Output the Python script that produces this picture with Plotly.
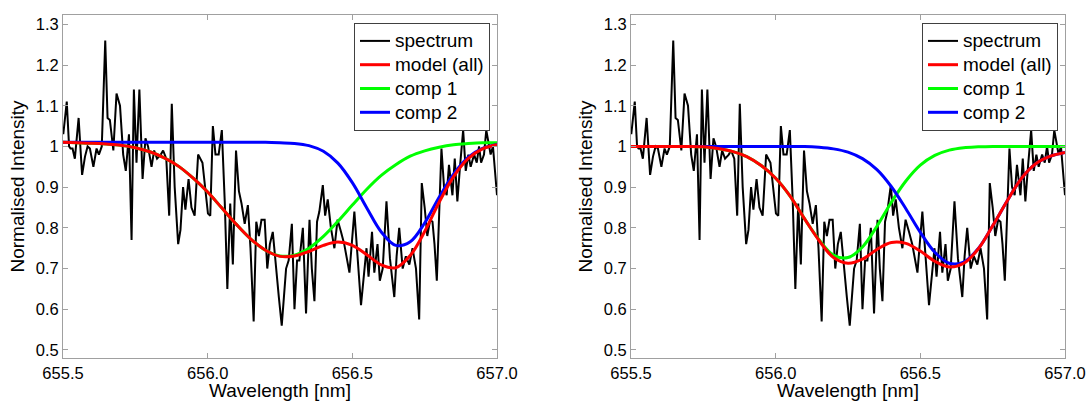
import plotly.graph_objects as go

# ---------------- data ----------------
spec_wl = [655.501, 655.513, 655.521, 655.526, 655.533, 655.541, 655.554, 655.566, 655.576, 655.585,
           655.593, 655.605, 655.616, 655.624, 655.634, 655.646, 655.654, 655.662, 655.674, 655.685,
           655.697, 655.708, 655.717, 655.728, 655.737, 655.745, 655.754, 655.764, 655.775, 655.785,
           655.794, 655.806, 655.815, 655.825, 655.838, 655.846, 655.857, 655.867, 655.876, 655.886,
           655.898, 655.906, 655.915, 655.923, 655.934, 655.944, 655.955, 655.967, 655.982, 655.992,
           656.001, 656.009, 656.018, 656.027, 656.038, 656.049, 656.059, 656.068, 656.078, 656.087,
           656.098, 656.108, 656.117, 656.128, 656.139, 656.148, 656.159, 656.168, 656.177, 656.186,
           656.197, 656.206, 656.215, 656.225, 656.237, 656.246, 656.256, 656.271, 656.280, 656.291,
           656.300, 656.309, 656.317, 656.329, 656.340, 656.352, 656.360, 656.369, 656.378, 656.386,
           656.398, 656.406, 656.415, 656.426, 656.438, 656.449, 656.461, 656.472, 656.490, 656.499,
           656.507, 656.530, 656.541, 656.549, 656.556, 656.568, 656.576, 656.587, 656.595, 656.605,
           656.618, 656.630, 656.637, 656.645, 656.653, 656.662, 656.674, 656.685, 656.697, 656.708,
           656.720, 656.731, 656.740, 656.750, 656.759, 656.769, 656.777, 656.784, 656.792, 656.800,
           656.808, 656.817, 656.826, 656.834, 656.846, 656.854, 656.863, 656.872, 656.883, 656.892,
           656.901, 656.909, 656.921, 656.930, 656.938, 656.945, 656.955, 656.963, 656.970, 656.978,
           656.986, 657.000]
spec_int = [1.03, 1.11, 1.00, 0.995, 0.995, 0.97, 1.07, 0.93, 0.975, 1.00,
            0.995, 0.95, 0.995, 0.98, 1.00, 1.26, 1.07, 1.065, 0.99, 1.13,
            1.10, 0.98, 0.94, 1.03, 0.77, 1.14, 0.96, 1.14, 0.92, 1.02,
            1.00, 0.95, 0.99, 0.97, 0.98, 0.99, 0.97, 0.83, 1.105, 0.90,
            0.76, 0.795, 0.90, 0.845, 0.92, 0.85, 0.83, 0.98, 0.96, 0.90,
            0.835, 0.83, 1.05, 0.98, 0.98, 1.04, 0.865, 0.65, 0.86, 0.71,
            0.99, 0.89, 0.86, 0.81, 0.856, 0.75, 0.57, 0.815, 0.78, 0.82,
            0.82, 0.70, 0.76, 0.79, 0.69, 0.63, 0.56, 0.70, 0.72, 0.81,
            0.60, 0.72, 0.72, 0.80, 0.59, 0.82, 0.70, 0.62, 0.815, 0.84,
            0.905, 0.83, 0.87, 0.80, 0.75, 0.82, 0.79, 0.76, 0.69, 0.77,
            0.84, 0.61, 0.685, 0.75, 0.68, 0.79, 0.69, 0.76, 0.67, 0.70,
            0.865, 0.725, 0.68, 0.63, 0.73, 0.80, 0.70, 0.73, 0.71, 0.75,
            0.70, 0.575, 0.91, 0.85, 0.78, 0.82, 0.815, 0.76, 0.67, 0.85,
            0.995, 0.90, 0.88, 0.955, 0.88, 0.97, 0.865, 0.95, 1.04, 0.94,
            0.98, 0.95, 0.98, 0.96, 1.00, 0.96, 0.98, 1.04, 1.01, 0.98,
            1.00, 0.88]

model_wl = [655.50, 655.55, 655.60, 655.65, 655.70, 655.75, 655.80, 655.85, 655.90, 655.95,
            656.00, 656.05, 656.10, 656.15, 656.20, 656.25, 656.30, 656.35, 656.40, 656.45,
            656.50, 656.55, 656.60, 656.65, 656.70, 656.75, 656.80, 656.85, 656.90, 656.95,
            657.00]

# left panel fit
left_model = [1.010, 1.009, 1.008, 1.006, 1.003, 0.997, 0.987, 0.972, 0.951, 0.922,
              0.888, 0.848, 0.808, 0.772, 0.745, 0.730, 0.731, 0.742, 0.757, 0.765,
              0.757, 0.734, 0.709, 0.702, 0.732, 0.791, 0.863, 0.926, 0.970, 0.994,
              1.004]
left_comp1 = [1.010, 1.009, 1.008, 1.006, 1.003, 0.997, 0.987, 0.972, 0.951, 0.922,
              0.888, 0.848, 0.808, 0.772, 0.745, 0.731, 0.733, 0.750, 0.779, 0.816,
              0.856, 0.895, 0.929, 0.955, 0.976, 0.989, 0.998, 1.004, 1.007, 1.009,
              1.009]
left_comp2 = [1.010, 1.010, 1.010, 1.010, 1.010, 1.010, 1.010, 1.010, 1.010, 1.010,
              1.010, 1.010, 1.010, 1.010, 1.010, 1.009, 1.0075, 1.002, 0.988, 0.959,
              0.911, 0.849, 0.790, 0.757, 0.766, 0.812, 0.875, 0.932, 0.973, 0.995,
              1.005]

# right panel fit
right_model = [1.000, 1.000, 1.000, 1.000, 1.000, 0.999, 0.995, 0.988, 0.975, 0.953,
               0.922, 0.878, 0.822, 0.769, 0.727, 0.713, 0.723, 0.747, 0.764, 0.762,
               0.743, 0.718, 0.704, 0.713, 0.748, 0.805, 0.866, 0.922, 0.958, 0.976,
               0.985]
right_comp1 = [1.000, 1.000, 1.000, 1.000, 1.000, 0.999, 0.995, 0.988, 0.975, 0.953,
               0.922, 0.878, 0.822, 0.771, 0.733, 0.727, 0.753, 0.804, 0.863, 0.915,
               0.954, 0.978, 0.991, 0.997, 0.999, 1.000, 1.000, 1.000, 1.000, 1.000,
               1.000]
right_comp2 = [1.000, 1.000, 1.000, 1.000, 1.000, 1.000, 1.000, 1.000, 1.000, 1.000,
               1.000, 1.000, 1.000, 0.998, 0.994, 0.986, 0.970, 0.943, 0.901, 0.847,
               0.789, 0.740, 0.713, 0.716, 0.749, 0.805, 0.866, 0.922, 0.958, 0.976,
               0.985]

x_tick_vals = [655.5, 656.0, 656.5, 657.0]
x_tick_text = ["655.5", "656.0", "656.5", "657.0"]
y_tick_vals = [0.5, 0.6, 0.7, 0.8, 0.9, 1.0, 1.1, 1.2, 1.3]
y_tick_text = ["0.5", "0.6", "0.7", "0.8", "0.9", "1", "1.1", "1.2", "1.3"]

# ---------------- figure ----------------
W, H = 1090, 401
ML, MR, MT, MB = 63, 25, 15, 43          # outer plot frame in px
PW, PH = W - ML - MR, H - MT - MB
FONT = "Arial, 'Liberation Sans', sans-serif"
fig = go.Figure()


def lg_name(txt):
    # larger glyphs while keeping the legend row pitch of a 16px font
    return "<span style='font-size:19px'>" + txt + "</span>"


panels = [
    ("x", "y", "legend", left_model, left_comp1, left_comp2),
    ("x2", "y2", "legend2", right_model, right_comp1, right_comp2),
]
for xa, ya, lg, model, comp1, comp2 in panels:
    # draw order: spectrum, comp 1, comp 2, model (model on top); legend order via legendrank
    fig.add_trace(go.Scatter(x=spec_wl, y=spec_int, mode="lines", name=lg_name("spectrum"),
                             line=dict(color="#000000", width=2), legendrank=1,
                             xaxis=xa, yaxis=ya, legend=lg))
    fig.add_trace(go.Scatter(x=model_wl, y=comp1, mode="lines", name=lg_name("comp 1"),
                             line=dict(color="#00ff00", width=3, shape="spline", smoothing=1.0),
                             legendrank=3, xaxis=xa, yaxis=ya, legend=lg))
    fig.add_trace(go.Scatter(x=model_wl, y=comp2, mode="lines", name=lg_name("comp 2"),
                             line=dict(color="#0000ff", width=3, shape="spline", smoothing=1.0),
                             legendrank=4, xaxis=xa, yaxis=ya, legend=lg))
    fig.add_trace(go.Scatter(x=model_wl, y=model, mode="lines", name=lg_name("model (all)"),
                             line=dict(color="#ff0000", width=3, shape="spline", smoothing=1.0),
                             legendrank=2, xaxis=xa, yaxis=ya, legend=lg))

axis_color = "#a0a0a0"


def xaxis(dom, anchor):
    return dict(domain=dom, anchor=anchor, range=[655.5, 657.0], automargin=False,
                tickvals=x_tick_vals, ticktext=x_tick_text,
                ticks="inside", ticklen=5, tickcolor=axis_color,
                showline=True, linecolor=axis_color, linewidth=1, mirror="ticks",
                showgrid=False, zeroline=False,
                tickfont=dict(family=FONT, size=16.5, color="black"),
                title=dict(text="Wavelength [nm]", font=dict(family=FONT, size=19, color="black"),
                           standoff=8))


def yaxis(anchor):
    return dict(domain=[0, 1], anchor=anchor, range=[0.4803, 1.3229], automargin=False,
                tickvals=y_tick_vals, ticktext=y_tick_text,
                ticks="inside", ticklen=5, tickcolor=axis_color,
                showline=True, linecolor=axis_color, linewidth=1, mirror="ticks",
                showgrid=False, zeroline=False,
                tickfont=dict(family=FONT, size=16.5, color="black"),
                title=dict(text="Normalised Intensity", font=dict(family=FONT, size=19, color="black"),
                           standoff=6))


def legend(px_left):
    return dict(x=(px_left - ML) / PW, y=1 - (23 - MT) / PH, xanchor="left", yanchor="top",
                bgcolor="white", bordercolor="#404040", borderwidth=1,
                font=dict(family=FONT, size=16, color="black"),
                tracegroupgap=0, itemwidth=30, traceorder="normal")


fig.update_layout(
    width=W, height=H,
    margin=dict(l=ML, r=MR, t=MT, b=MB, autoexpand=False),
    paper_bgcolor="white", plot_bgcolor="white",
    showlegend=True,
    xaxis=xaxis([0, (497 - ML) / PW], "y"),
    yaxis=yaxis("x"),
    xaxis2=xaxis([(631 - ML) / PW, 1], "y2"),
    yaxis2=yaxis("x2"),
    legend=legend(354),
    legend2=legend(922),
)

fig.write_html("out.html", config={"displayModeBar": False},
               post_script="document.body.style.margin='0';")
